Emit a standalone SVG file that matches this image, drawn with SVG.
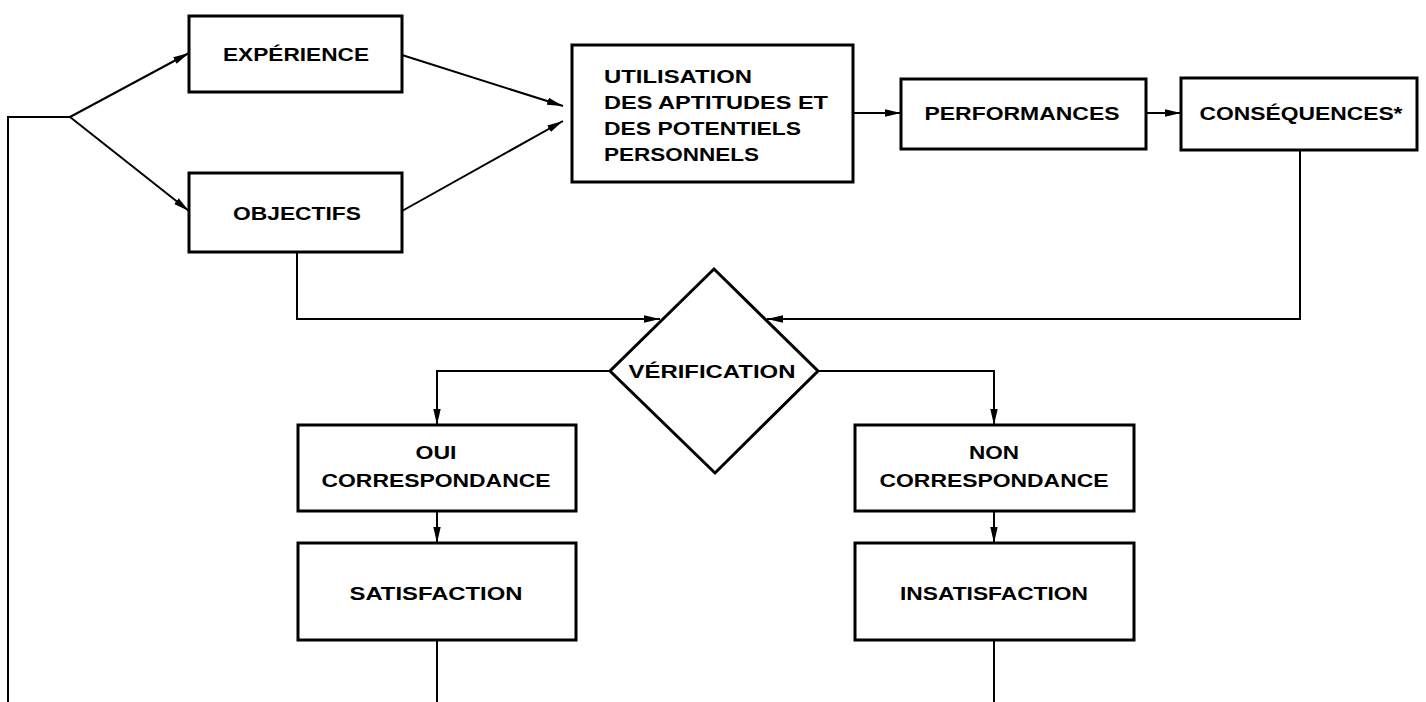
<svg xmlns="http://www.w3.org/2000/svg" width="1426" height="702" viewBox="0 0 1426 702">
<defs>
<marker id="ah" markerUnits="userSpaceOnUse" markerWidth="18" markerHeight="10" refX="16" refY="4.5" orient="auto">
<path d="M0,0.8 L16,4.5 L0,8.2 Z" fill="#000"/>
</marker>
<style>
.box{fill:#fff;stroke:#000;stroke-width:3}
.ln{fill:none;stroke:#000;stroke-width:2}
.t{font-family:"Liberation Sans",Arial,sans-serif;font-weight:bold;font-size:19px;fill:#000}
.c{text-anchor:middle}
</style>
</defs>
<rect width="1426" height="702" fill="#fff"/>
<g id="connectors">
<polyline class="ln" points="8,702 8,117 70,117"/>
<line class="ln" x1="70" y1="117" x2="189" y2="53" marker-end="url(#ah)"/>
<line class="ln" x1="70" y1="117" x2="189" y2="211" marker-end="url(#ah)"/>
<line class="ln" x1="402" y1="55" x2="563" y2="106" marker-end="url(#ah)"/>
<line class="ln" x1="402" y1="211" x2="563" y2="121" marker-end="url(#ah)"/>
<line class="ln" x1="853" y1="113" x2="901" y2="113" marker-end="url(#ah)"/>
<line class="ln" x1="1146" y1="113" x2="1181" y2="113" marker-end="url(#ah)"/>
<polyline class="ln" points="297,252 297,319 660,319" marker-end="url(#ah)"/>
<polyline class="ln" points="1300,150 1300,319 767,319" marker-end="url(#ah)"/>
<polyline class="ln" points="610,371 437,371 437,425" marker-end="url(#ah)"/>
<polyline class="ln" points="818,371 994,371 994,425" marker-end="url(#ah)"/>
<line class="ln" x1="437" y1="511" x2="437" y2="543" marker-end="url(#ah)"/>
<line class="ln" x1="994" y1="511" x2="994" y2="543" marker-end="url(#ah)"/>
<line class="ln" x1="437" y1="640" x2="437" y2="702"/>
<line class="ln" x1="994" y1="640" x2="994" y2="702"/>
</g>
<g id="experience">
<rect class="box" x="189" y="16" width="213" height="76"/>
<text class="t c" x="296" y="61" textLength="146" lengthAdjust="spacingAndGlyphs">EXPÉRIENCE</text>
</g>
<g id="objectifs">
<rect class="box" x="189" y="173" width="213" height="79"/>
<text class="t c" x="297" y="220" textLength="128" lengthAdjust="spacingAndGlyphs">OBJECTIFS</text>
</g>
<g id="utilisation">
<rect class="box" x="572" y="45" width="281" height="137"/>
<text class="t" x="604" y="83" textLength="148" lengthAdjust="spacingAndGlyphs">UTILISATION</text>
<text class="t" x="604" y="109" textLength="224" lengthAdjust="spacingAndGlyphs">DES APTITUDES ET</text>
<text class="t" x="604" y="135" textLength="197" lengthAdjust="spacingAndGlyphs">DES POTENTIELS</text>
<text class="t" x="604" y="161" textLength="155" lengthAdjust="spacingAndGlyphs">PERSONNELS</text>
</g>
<g id="performances">
<rect class="box" x="901" y="79" width="245" height="70"/>
<text class="t c" x="1022" y="120" textLength="195" lengthAdjust="spacingAndGlyphs">PERFORMANCES</text>
</g>
<g id="consequences">
<rect class="box" x="1181" y="78" width="236" height="72"/>
<text class="t c" x="1301" y="120" textLength="203" lengthAdjust="spacingAndGlyphs">CONSÉQUENCES*</text>
</g>
<g id="verification">
<polygon class="box" points="714,269 818,371 715,473 610,371"/>
<text class="t c" x="712" y="378" textLength="167" lengthAdjust="spacingAndGlyphs">VÉRIFICATION</text>
</g>
<g id="oui">
<rect class="box" x="298" y="425" width="278" height="86"/>
<text class="t c" x="436" y="459" textLength="41" lengthAdjust="spacingAndGlyphs">OUI</text>
<text class="t c" x="436" y="487" textLength="229" lengthAdjust="spacingAndGlyphs">CORRESPONDANCE</text>
</g>
<g id="satisfaction">
<rect class="box" x="298" y="543" width="278" height="97"/>
<text class="t c" x="436" y="600" textLength="173" lengthAdjust="spacingAndGlyphs">SATISFACTION</text>
</g>
<g id="non">
<rect class="box" x="855" y="425" width="279" height="86"/>
<text class="t c" x="994" y="459" textLength="50" lengthAdjust="spacingAndGlyphs">NON</text>
<text class="t c" x="994" y="487" textLength="229" lengthAdjust="spacingAndGlyphs">CORRESPONDANCE</text>
</g>
<g id="insatisfaction">
<rect class="box" x="855" y="543" width="279" height="97"/>
<text class="t c" x="994" y="600" textLength="188" lengthAdjust="spacingAndGlyphs">INSATISFACTION</text>
</g>
</svg>
